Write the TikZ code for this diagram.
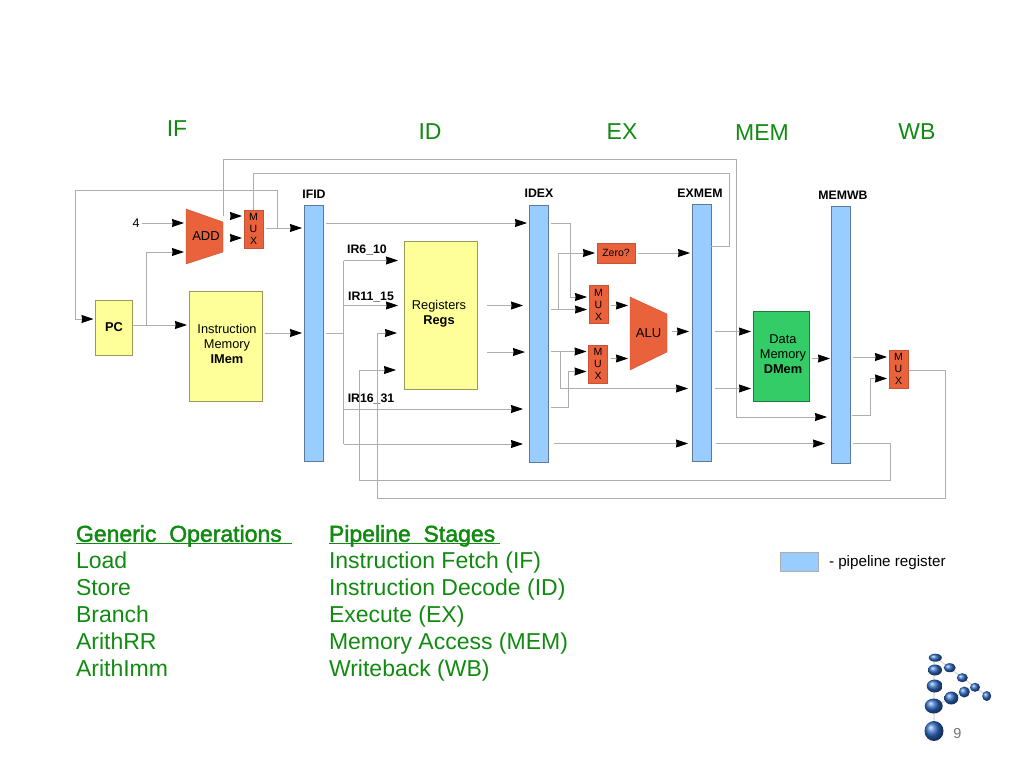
\documentclass[tikz,border=0pt]{standalone}
\usepackage{fontspec}
\setmainfont{Liberation Sans}
\newfontfamily\headfont[FakeBold=2]{Liberation Sans}
\usetikzlibrary{arrows.meta}
\definecolor{wiregray}{HTML}{ADADAD}
\definecolor{stagegreen}{HTML}{118A11}
\definecolor{regblue}{HTML}{99CCFF}
\definecolor{unitorange}{HTML}{E9623C}
\definecolor{memyellow}{HTML}{FFFF99}
\definecolor{memgreen}{HTML}{33CC66}
\definecolor{logoblue}{HTML}{2F6BC4}
\begin{document}
\begin{tikzpicture}[x=1pt,y=-1pt,
  every node/.style={inner sep=0pt,outer sep=0pt},
  stagename/.style={text=stagegreen,font=\fontsize{23}{23}\selectfont},
  regname/.style={font=\fontsize{12.3}{14}\selectfont\bfseries},
  pipereg/.style={draw=regblue!60!black,fill=regblue,minimum width=19pt},
  mux/.style={draw=unitorange!85!black,fill=unitorange,minimum width=19pt,minimum height=38pt,
    align=center,font=\fontsize{10.5}{12}\selectfont},
  memory/.style={draw=memyellow!60!black,fill=memyellow},
  memtext/.style={align=center,font=\fontsize{12.8}{15}\selectfont},
  unit/.style={font=\fontsize{13}{15}\selectfont},
  wire/.style={draw=wiregray,line width=0.9pt,-{Stealth[length=12pt,width=8pt,inset=0.6pt,black]},
    shorten >=2pt,shorten <=3pt},
  bus/.style={draw=wiregray,line width=0.9pt},
  listing/.style={anchor=west,align=left,text=stagegreen,font=\fontsize{23}{27}\selectfont}]
\useasboundingbox (0,0) rectangle (1024,768);

\node[stagename] (stageIF) at (177,129) {IF};
\node[stagename] (stageID) at (430,132) {ID};
\node[stagename] (stageEX) at (622,132) {EX};
\node[stagename] (stageMEM) at (762,133) {MEM};
\node[stagename] (stageWB) at (917,132) {WB};

% pipeline registers
\node[pipereg,minimum height=256pt] (IFID) at (313.5,333) {};
\node[pipereg,minimum height=257pt] (IDEX) at (538.5,333.5) {};
\node[pipereg,minimum height=257pt] (EXMEM) at (701.5,332.5) {};
\node[pipereg,minimum height=257pt] (MEMWB) at (840.5,334.5) {};
\node[regname] (IFIDname) at (314,194) {IFID};
\node[regname] (IDEXname) at (539,193) {IDEX};
\node[regname] (EXMEMname) at (700,193) {EXMEM};
\node[regname] (MEMWBname) at (843,195) {MEMWB};

% units
\fill[unitorange,draw=unitorange!85!black] (186,209) -- (223,222) -- (223,252) -- (186,264) -- cycle;
\fill[unitorange,draw=unitorange!85!black] (630,297) -- (667,314) -- (667,352) -- (630,370) -- cycle;
\node[unit,minimum width=37pt,minimum height=55pt] (ADD) at (204.5,236.5) {\hspace{3pt}ADD};
\node[unit,minimum width=37pt,minimum height=73pt] (ALU) at (648.5,333.5) {ALU};
\node[mux] (muxPC) at (253.5,229) {M\\U\\X};
\node[mux] (muxA) at (598.5,304.5) {M\\U\\X};
\node[mux] (muxB) at (598,364) {M\\U\\X};
\node[mux] (muxWB) at (898.5,369) {M\\U\\X};
\node[draw=unitorange!85!black,fill=unitorange,minimum width=38pt,minimum height=20pt,
  font=\fontsize{10.5}{12}\selectfont] (zero) at (616,253) {Zero?};
\node[memory,minimum width=37pt,minimum height=55pt,font=\fontsize{12.8}{15}\selectfont\bfseries] (PC) at (114,327.5) {PC};
\node[memory,minimum width=73pt,minimum height=110pt] (IMem) at (225.5,346) {};
\node[memtext] (IMemtext) at (227,344) {Instruction\\Memory\\\textbf{IMem}};
\node[memory,minimum width=73pt,minimum height=148pt] (Regs) at (440.5,315) {};
\node[memtext] (Regstext) at (439,313.5) {Registers\\\textbf{Regs}};
\node[memory,draw=memgreen!60!black,fill=memgreen,minimum width=56pt,minimum height=90pt] (DMem) at (781,356) {};
\node[memtext] (DMemtext) at (783,354.5) {Data\\Memory\\\textbf{DMem}};
\node[font=\fontsize{12.5}{15}\selectfont] (four) at (136,223) {4};

\node[regname] (IRa) at (367,250) {IR6\_10};
\node[regname] (IRb) at (371,297) {IR11\_15};
\node[regname] (IRc) at (371,399) {IR16\_31};

% joints on the wires
\coordinate (pcjoint) at (146.5,325);
\coordinate (irjoint) at (343.5,333);
\coordinate (fbjoint) at (277,228);
\coordinate (zerojoint) at (558.5,309.5);
\coordinate (bjoint) at (560.5,351.5);

% instruction fetch
\draw[wire] (four.east |- 0,223) -- (ADD.west |- 0,223);
\draw[wire,shorten <=0pt] (PC.east |- 0,325) -- (IMem.west |- 0,325);
\draw[wire,shorten <=0pt] (pcjoint) |- (ADD.west |- 0,252);
\draw[wire,shorten <=9pt] (ADD.east |- 0,238) -- (muxPC.west |- 0,238);
\draw[wire] (muxPC.east |- 0,228) -- (IFID.west |- 0,228);
\draw[wire,shorten <=0pt] (fbjoint) |- (75.5,190.5) |- (PC.west |- 0,319);
\draw[wire] (IMem.east |- 0,333) -- (IFID.west |- 0,333);

% long feedback
\draw[bus] (muxPC.north) |- (729,173.5) |- (EXMEM.east |- 0,246.5);
\draw[wire,shorten <=0pt,shorten >=4pt] (223.5,216) |- (223.5,159) -| (736,417) -- (MEMWB.west |- 0,417);
\draw[wire,shorten <=9pt] (223,216) -- (muxPC.west |- 0,216);

% instruction decode
\draw[wire] (IFID.east |- 0,223) -- (IDEX.west |- 0,223);
\draw[bus,shorten <=3pt] (IFID.east |- 0,333) -- (irjoint);
\draw[bus] (343.5,260.5) -- (343.5,444);
\draw[wire,shorten <=0pt,shorten >=6pt] (343.5,260.5) -- (Regs.west |- 0,260.5);
\draw[wire,shorten <=0pt,shorten >=6pt] (343.5,305.5) -- (Regs.west |- 0,305.5);
\draw[wire,shorten <=0pt,shorten >=6pt] (343.5,409) -- (IDEX.west |- 0,409);
\draw[wire,shorten <=0pt,shorten >=6pt] (343.5,444) -- (IDEX.west |- 0,444);
\draw[wire,shorten <=10pt,shorten >=6pt] (Regs.east |- 0,305.5) -- (IDEX.west |- 0,305.5);
\draw[wire,shorten <=10pt,shorten >=4pt] (Regs.east |- 0,352) -- (IDEX.west |- 0,352);
\draw[wire,shorten <=0pt,shorten >=7pt] (945,498.5) -| (377.5,333) -- (Regs.west |- 0,333);
\draw[bus,shorten <=1pt] (muxWB.east |- 0,370.5) -| (945,498.5);
\draw[wire,shorten <=3pt,shorten >=8pt] (MEMWB.east |- 0,443.5) -| (890,480) -| (359.5,370) -- (Regs.west |- 0,370);

% execute
\draw[wire] (IDEX.east |- 0,223) -| (570.5,297) -- (muxA.west |- 0,297);
\draw[wire] (IDEX.east |- 0,309.5) -- (muxA.west |- 0,309.5);
\draw[wire,shorten <=0pt] (zerojoint) |- (zero.west);
\draw[wire] (zero.east) -- (EXMEM.west |- 0,253);
\draw[wire] (IDEX.east |- 0,351.5) -- (muxB.west |- 0,351.5);
\draw[wire,shorten <=0pt,shorten >=4pt] (bjoint) |- (EXMEM.west |- 0,388.5);
\draw[wire] (IDEX.east |- 0,407.5) -| (568.5,371.5) -- (muxB.west |- 0,371.5);
\draw[wire] (muxA.east |- 0,305.5) -- (630,305.5);
\draw[wire] (muxB.east |- 0,358.5) -- (630,358.5);
\draw[wire,shorten <=5pt,shorten >=3pt] (ALU.east |- 0,331.5) -- (EXMEM.west |- 0,331.5);
\draw[wire,shorten <=6pt,shorten >=4pt] (IDEX.east |- 0,443.5) -- (EXMEM.west |- 0,443.5);

% memory and write back
\draw[wire,shorten <=4pt] (EXMEM.east |- 0,331.5) -- (DMem.west |- 0,331.5);
\draw[wire,shorten <=4pt] (EXMEM.east |- 0,388.5) -- (DMem.west |- 0,388.5);
\draw[wire,shorten <=5pt,shorten >=6pt] (EXMEM.east |- 0,443.5) -- (MEMWB.west |- 0,443.5);
\draw[wire,shorten >=1pt] (DMem.east |- 0,358.5) -- (MEMWB.west |- 0,358.5);
\draw[wire] (MEMWB.east |- 0,357) -- (muxWB.west |- 0,357);
\draw[wire,shorten <=2pt] (MEMWB.east |- 0,415.5) -| (870.5,378.5) -- (muxWB.west |- 0,378.5);

% lists and legend
\node[listing] (generic) at (76,605) {{\headfont\rlap{\rule[-2.5pt]{216pt}{1.3pt}}Generic\ \ Operations}\\Load\\Store\\Branch\\ArithRR\\ArithImm\strut};
\node[listing] (stages) at (329,605) {{\headfont\rlap{\rule[-2.5pt]{171pt}{1.3pt}}Pipeline\ \ Stages}\\Instruction Fetch (IF)\\Instruction Decode (ID)\\Execute (EX)\\Memory Access (MEM)\\Writeback (WB)\strut};
\node[draw=wiregray,fill=regblue,minimum width=38pt,minimum height=19pt] (legend) at (799,562) {};
\node[anchor=west,font=\fontsize{15.2}{16}\selectfont] (legendtext) at (829,562.5) {- pipeline register};

% logo
\draw[black!15,line width=1.2pt] (934,731) -- (934,657) (935,657) -- (987,696) (934,706) -- (975,687);
\foreach \px/\py/\rx/\ry in {935.3/657.7/6.5/4,935/670/7/5.5,949.7/667.7/6/4.5,962.3/677.7/5.5/4.5,
    934.7/686/8/6.5,975/687.3/5/4.5,964.3/692/5.5/5.5,986.7/696/4.5/5,951.3/698/7/6.5,
    933.7/706/9/7.5,934/731/9.5/10}
  \shade[ball color=logoblue] (\px,\py) ellipse [x radius=\rx pt,y radius=\ry pt];
\node[text=black!55,font=\fontsize{14.5}{16}\selectfont] (pagenum) at (957.5,733) {9};
\end{tikzpicture}
\end{document}
